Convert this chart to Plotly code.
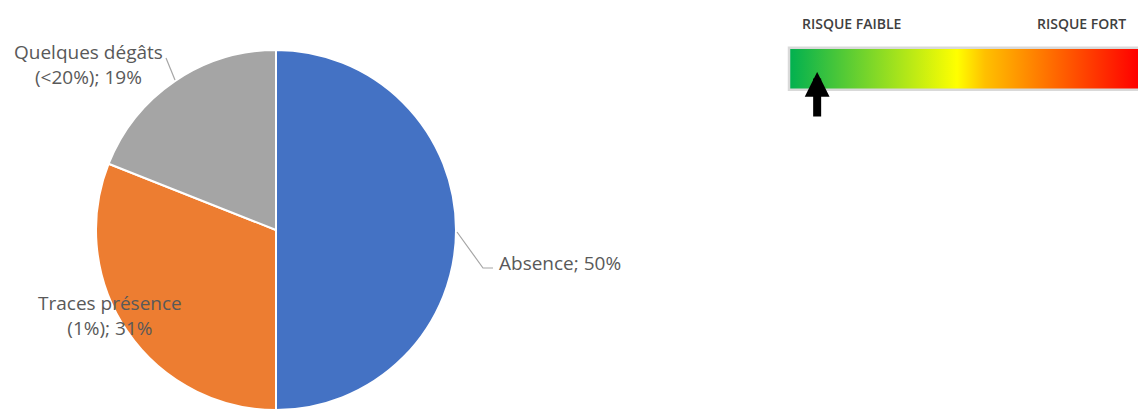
import plotly.graph_objects as go

# ---- data ----
categories = ["Absence", "Traces présence<br>(1%)", "Quelques dégâts<br>(<20%)"]
shares = [50, 31, 19]
slice_colors = ["#4472C4", "#ED7D31", "#A5A5A5"]

risk_labels = ["RISQUE FAIBLE", "RISQUE FORT"]
risk_scale = [0, 100]
risk_level = 8

W, H = 1138, 410
px = lambda x: x / W
py = lambda y: 1 - y / H

fig = go.Figure()

fig.add_trace(go.Pie(
    labels=categories, values=shares, sort=False, direction="clockwise", rotation=0,
    marker=dict(colors=slice_colors, line=dict(color="white", width=2)),
    textinfo="none", hoverinfo="label+percent", showlegend=False,
    domain=dict(x=[px(96), px(456)], y=[0, py(50)]),
))

# dummy trace carrying the risk colour bar
bar_left, bar_len = 789, 352
cb_len = 372
stop = lambda x: (x - bar_left) / cb_len
fig.add_trace(go.Scatter(
    x=[0, 0], y=[0, 0], mode="markers", hoverinfo="skip", showlegend=False,
    marker=dict(color=risk_scale, cmin=risk_scale[0], cmax=risk_scale[1], opacity=0,
                colorscale=[[0, "#00B050"], [stop(957), "#FFFF00"], [stop(985), "#FFC000"],
                            [stop(1138), "#FF0000"], [1, "#FF0000"]],
                showscale=True,
                colorbar=dict(orientation="h", x=px(bar_left), xanchor="left",
                              y=py(70), yanchor="middle", len=cb_len, lenmode="pixels",
                              thickness=42, thicknessmode="pixels", xpad=0, ypad=0,
                              outlinewidth=2.5, outlinecolor="#D9D9D9",
                              showticklabels=False, ticks="")),
))

fig.update_xaxes(visible=False)
fig.update_yaxes(visible=False)

lab_font = dict(family="Open Sans", size=19, color="#595959")
annotations = [
    dict(x=px(88), y=py(64), text=f"Quelques dégâts<br>(<20%); {shares[2]}%"),
    dict(x=px(110), y=py(315), text=f"Traces présence<br>(1%); {shares[1]}%"),
    dict(x=px(497), y=py(263), text=f"Absence; {shares[0]}%", xanchor="left"),
]
anns = []
for a in annotations:
    d = dict(xref="paper", yref="paper", showarrow=False, font=lab_font,
             xanchor="center", yanchor="middle")
    d.update(a)
    anns.append(d)

for i, t in enumerate(risk_labels):
    anns.append(dict(xref="paper", yref="paper", x=px([851, 1081][i]), y=py(23),
                     text=t, showarrow=False, xanchor="center", yanchor="middle",
                     font=dict(family="Open Sans", size=14, color="#404040", weight=600)))

arrow_x = bar_left + risk_level / (risk_scale[1] - risk_scale[0]) * bar_len
anns.append(dict(xref="paper", yref="paper", x=px(arrow_x), y=py(72), text="",
                 showarrow=True, arrowhead=2, arrowsize=0.62, arrowwidth=8,
                 arrowcolor="black", ax=0, ay=46))

fig.update_layout(
    width=W, height=H, margin=dict(l=0, r=0, t=0, b=0, autoexpand=False),
    paper_bgcolor="white", plot_bgcolor="white",
    annotations=anns,
    shapes=[
        dict(type="path", xref="paper", yref="paper",
             path=f"M{px(457)},{py(232)} L{px(483)},{py(268)} L{px(493)},{py(268)}",
             line=dict(color="#A6A6A6", width=1.2)),
        dict(type="line", xref="paper", yref="paper", x0=px(166), y0=py(58),
             x1=px(175), y1=py(80), line=dict(color="#A6A6A6", width=1.2)),
    ],
)

fig.write_html("out.html", config=dict(displayModeBar=False),
               post_script="document.body.style.margin='0';document.body.style.overflow='hidden';")
